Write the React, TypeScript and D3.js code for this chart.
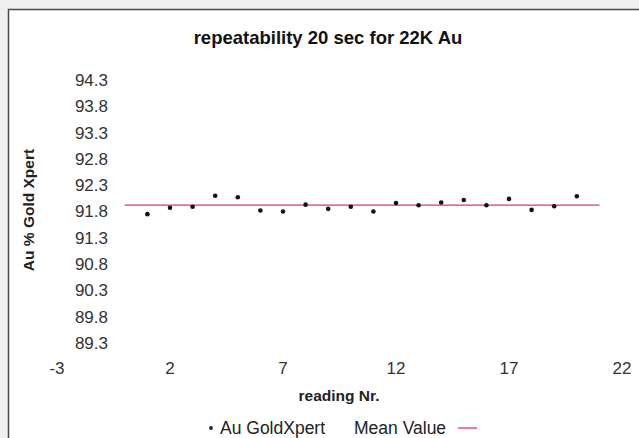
import { useEffect, useRef } from 'react';
import * as d3 from 'd3';

const readings = [1, 2, 3, 4, 5, 6, 7, 8, 9, 10, 11, 12, 13, 14, 15, 16, 17, 18, 19, 20];
const auValues = [91.75, 91.87, 91.89, 92.10, 92.07, 91.82, 91.80, 91.93, 91.85, 91.89,
  91.80, 91.96, 91.92, 91.97, 92.02, 91.92, 92.04, 91.83, 91.90, 92.09];
const meanValue = 91.92;
const meanRange = [0, 21];
const xTicks = [-3, 2, 7, 12, 17, 22];
const yTicks = [89.3, 89.8, 90.3, 90.8, 91.3, 91.8, 92.3, 92.8, 93.3, 93.8, 94.3];

const W = 639;
const H = 438;
const FONT = "'Liberation Sans', Arial, sans-serif";

export default function App() {
  const svgRef = useRef<SVGSVGElement>(null);

  useEffect(() => {
    if (!svgRef.current) return;
    const svg = d3.select(svgRef.current);
    svg.selectAll('*').remove();

    const x = d3.scaleLinear().domain([-3, 22]).range([57, 622]);
    const y = d3.scaleLinear().domain([89.3, 94.3]).range([343, 80]);

    // grey page behind the frame
    svg.append('rect').attr('width', W).attr('height', H).attr('fill', '#efefef');
    svg.append('rect')
      .attr('x', 8.5).attr('y', 9.5)
      .attr('width', W).attr('height', H)
      .attr('fill', '#fff')
      .attr('stroke', '#4a4a4a')
      .attr('stroke-width', 1.5);

    svg.append('text')
      .attr('x', 328).attr('y', 38)
      .attr('dy', '0.35em')
      .attr('text-anchor', 'middle')
      .attr('font-family', FONT).attr('font-size', 18.5).attr('font-weight', 'bold')
      .attr('fill', '#111')
      .text('repeatability 20 sec for 22K Au');

    // y tick labels
    svg.append('g').selectAll('text').data(yTicks).join('text')
      .attr('x', 108)
      .attr('y', d => y(d))
      .attr('dy', '0.35em')
      .attr('text-anchor', 'end')
      .attr('font-family', FONT).attr('font-size', 17)
      .attr('fill', '#333')
      .text(d => d.toFixed(1));

    // x tick labels
    svg.append('g').selectAll('text').data(xTicks).join('text')
      .attr('x', d => x(d))
      .attr('y', 368)
      .attr('dy', '0.35em')
      .attr('text-anchor', 'middle')
      .attr('font-family', FONT).attr('font-size', 17)
      .attr('fill', '#333')
      .text(d => String(d));

    svg.append('text')
      .attr('transform', 'translate(29,210) rotate(-90)')
      .attr('text-anchor', 'middle')
      .attr('dy', '0.35em')
      .attr('font-family', FONT).attr('font-size', 15.5).attr('font-weight', 'bold')
      .attr('fill', '#222')
      .text('Au % Gold Xpert');

    svg.append('text')
      .attr('x', 339).attr('y', 396)
      .attr('dy', '0.35em')
      .attr('text-anchor', 'middle')
      .attr('font-family', FONT).attr('font-size', 15.5).attr('font-weight', 'bold')
      .attr('fill', '#222')
      .text('reading Nr.');

    // mean line
    svg.append('line')
      .attr('x1', x(meanRange[0])).attr('x2', x(meanRange[1]))
      .attr('y1', y(meanValue)).attr('y2', y(meanValue))
      .attr('stroke', '#e8336b').attr('stroke-width', 1.3);

    // points
    svg.append('g').selectAll('circle').data(readings).join('circle')
      .attr('cx', d => x(d))
      .attr('cy', (d, i) => y(auValues[i]))
      .attr('r', 2.3)
      .attr('fill', '#111');

    // legend
    const lg = svg.append('g').attr('font-family', FONT).attr('font-size', 17.5).attr('fill', '#222');
    lg.append('circle').attr('cx', 211).attr('cy', 428).attr('r', 1.9).attr('fill', '#222');
    lg.append('text').attr('x', 220).attr('y', 428).attr('dy', '0.35em').text('Au GoldXpert');
    lg.append('text').attr('x', 354).attr('y', 428).attr('dy', '0.35em').text('Mean Value');
    lg.append('line').attr('x1', 458).attr('x2', 477).attr('y1', 428).attr('y2', 428)
      .attr('stroke', '#e8336b').attr('stroke-width', 1.3);
  }, []);

  return (
    <div style={{ position: 'fixed', left: 0, top: 0 }}>
      <svg ref={svgRef} width={W} height={H} style={{ display: 'block' }} />
    </div>
  );
}
